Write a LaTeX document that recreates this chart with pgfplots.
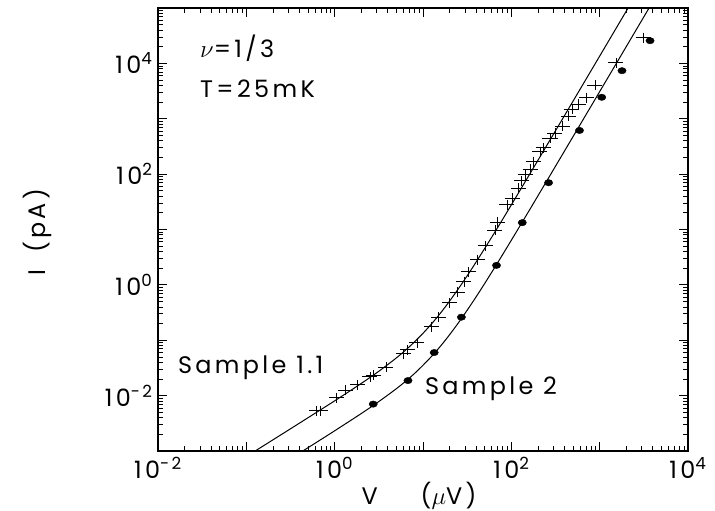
\documentclass[border=0pt]{standalone}
\usepackage{pgfplots}
\pgfplotsset{compat=1.18}
\usepackage{fontspec}
\setmainfont{Poppins}[LetterSpace=14]
\begin{document}
\begin{tikzpicture}
\begin{axis}[
  name=ax,
  xmode=log, ymode=log,
  width=530bp, height=443bp, scale only axis,
  xmin=1e-2, xmax=1e4, ymin=1e-3, ymax=1e5,
  xtick={1e-2,1e-1,1,10,100,1000,10000},
  xticklabels={10\textsuperscript{-2},{},10\textsuperscript{0},{},10\textsuperscript{2},{},10\textsuperscript{4}},
  ytick={1e-3,1e-2,1e-1,1,10,100,1000,10000,100000},
  yticklabels={{},10\textsuperscript{-2},{},10\textsuperscript{0},{},10\textsuperscript{2},{},10\textsuperscript{4},{}},
  minor xtick={0.02,0.03,0.04,0.05,0.06,0.07,0.08,0.09,0.2,0.3,0.4,0.5,0.6,0.7,0.8,0.9,2,3,4,5,6,7,8,9,20,30,40,50,60,70,80,90,200,300,400,500,600,700,800,900,2000,3000,4000,5000,6000,7000,8000,9000},
  minor ytick={0.002,0.003,0.004,0.005,0.006,0.007,0.008,0.009,0.02,0.03,0.04,0.05,0.06,0.07,0.08,0.09,0.2,0.3,0.4,0.5,0.6,0.7,0.8,0.9,2,3,4,5,6,7,8,9,20,30,40,50,60,70,80,90,200,300,400,500,600,700,800,900,2000,3000,4000,5000,6000,7000,8000,9000,20000,30000,40000,50000,60000,70000,80000,90000},
  tick align=inside,
  major tick length=9bp, minor tick length=5bp,
  every tick/.style={black, line width=0.8bp},
  axis line style={line width=1.2bp},
  tick label style={font=\fontsize{24}{24}\selectfont},
  xticklabel style={yshift=-3bp},
  yticklabel style={xshift=-2bp},
  label style={font=\fontsize{24}{24}\selectfont},
  xlabel={V\hspace{1.8em}($\mu$V)},
  ylabel={I\hspace{0.7em}(pA)},
  xlabel style={at={(rel axis cs:0.4925,-0.1)}, anchor=center},
  ylabel style={at={(rel axis cs:-0.228,0.494)}, anchor=center, rotate=0},
]
% Sample 1.1 fitted curve
\addplot[black, line width=1bp, smooth] coordinates {
(0.1202,0.000955) (0.3162,0.002518) (1,0.00805) (1.995,0.01656) (3.162,0.02754)
(5.012,0.04819) (7.079,0.07745) (10,0.1334) (14.13,0.2489) (19.95,0.5058)
(31.62,1.455) (56.23,6.152) (100,27.80) (316.2,606.7) (1000,13520) (2512,162600)};
% Sample 2 fitted curve
\addplot[black, line width=1bp, smooth] coordinates {
(0.4266,0.0009795) (1,0.002317) (2.512,0.006053) (5.012,0.01340) (7.943,0.02477)
(12.59,0.05176) (17.78,0.09886) (25.12,0.2056) (35.48,0.4571) (50.12,1.069)
(79.43,3.491) (158.5,21.73) (398.1,258.2) (1000,3090) (2512,37150) (3981,128800)};
% Sample 1.1 data
\addplot[only marks, mark=+, mark size=5bp, mark options={xscale=1.5, line width=0.9bp, black}] coordinates {
(0.627,0.00532) (0.683,0.00532) (1.055,0.00912) (1.33,0.0125) (1.82,0.0157)
(2.51,0.0221) (2.72,0.0232) (3.81,0.0324) (5.98,0.0569) (6.68,0.0671)
(8.55,0.0910) (12.6,0.177) (15.0,0.261) (19.95,0.473) (24.6,0.733)
(29.1,1.15) (32.7,1.72) (41.4,2.86) (50.4,5.06) (65.3,9.64)
(69.3,13.4) (89.3,27.8) (102,36.7) (120,55.2) (131,75.4)
(143,96.8) (163,122) (177,168) (211,255) (230,297)
(274,445) (312,547) (380,726) (444,1120) (486,1500)
(573,1850) (713,2400) (885,4070) (1530,10200) (3120,29300)};
% Sample 2 data
\addplot[only marks, mark=*, mark size=3.2bp, mark options={xscale=1.3, fill=black, draw=black}] coordinates {
(2.73,0.00703) (6.76,0.0187) (13.4,0.060) (27.2,0.261) (67.9,2.25)
(133,13.3) (264,70.0) (591,615) (1055,2440) (1790,7380) (3720,25700)};
\node[anchor=west, inner sep=0, font=\fontsize{24}{24}\selectfont] at (axis cs:0.0299,18750) {$\nu$=1/3};
\node[anchor=west, inner sep=0, font=\fontsize{24}{24}\selectfont] at (axis cs:0.0299,3556) {T=25mK};
\node[anchor=west, inner sep=0, font=\fontsize{24}{24}\selectfont] at (axis cs:0.0168,0.0313) {Sample 1.1};
\node[anchor=west, inner sep=0, font=\fontsize{24}{24}\selectfont] at (axis cs:10.5,0.0131) {Sample 2};
\end{axis}
\pgfresetboundingbox
\path[use as bounding box] ([shift={(-158bp,-60bp)}]ax.south west) rectangle ([shift={(27bp,8bp)}]ax.north east);
\end{tikzpicture}
\end{document}
